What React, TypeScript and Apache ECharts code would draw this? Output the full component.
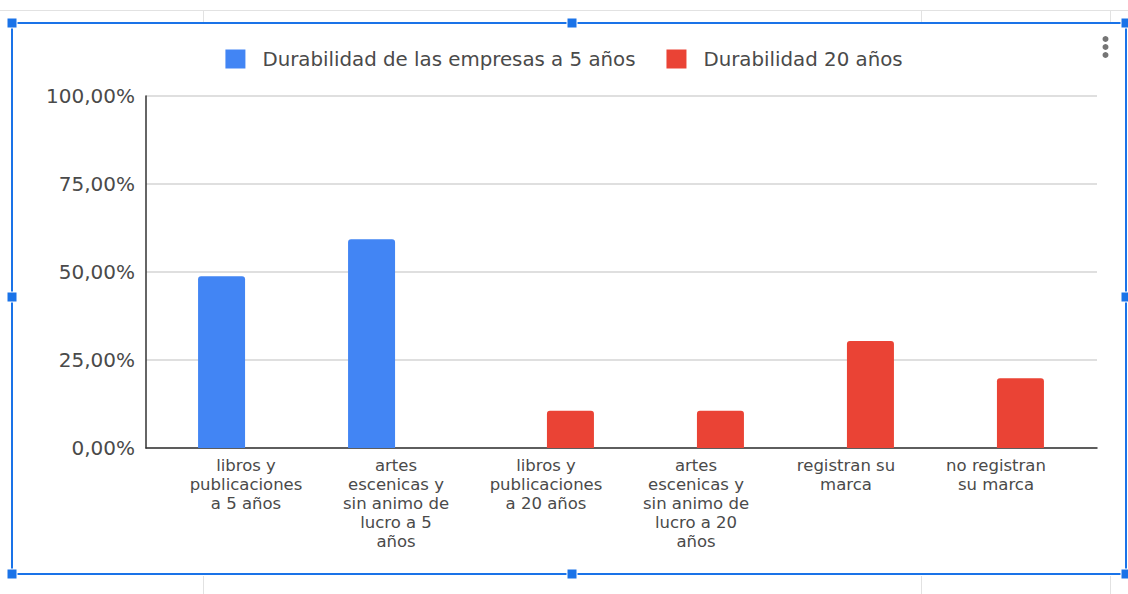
import React, { useEffect, useRef } from "react";
import * as echarts from "echarts";

const categories = [
  "libros y\npublicaciones\na 5 años",
  "artes\nescenicas y\nsin animo de\nlucro a 5\naños",
  "libros y\npublicaciones\na 20 años",
  "artes\nescenicas y\nsin animo de\nlucro a 20\naños",
  "registran su\nmarca",
  "no registran\nsu marca",
];
const seriesNames = ["Durabilidad de las empresas a 5 años", "Durabilidad 20 años"];
const durab5 = [0.488, 0.593, null, null, null, null];
const durab20 = [null, null, 0.106, 0.106, 0.304, 0.198];
const yTicks = [0, 0.25, 0.5, 0.75, 1];

const FONT = "DejaVu Sans";
const BLUE = "#4285F4";
const RED = "#EA4335";
const SEL = "#1a73e8";

export default function App() {
  const ref = useRef<HTMLDivElement>(null);
  useEffect(() => {
    document.body.style.margin = "0";
    const chart = echarts.init(ref.current!, null, { renderer: "svg" });
    const handles = [
      [12, 23], [572, 23], [1126, 23],
      [12, 297], [1126, 297],
      [12, 574], [572, 574], [1126, 574],
    ];
    const graphic: any[] = [
      { type: "line", shape: { x1: 0, y1: 10.5, x2: 1128, y2: 10.5 }, style: { stroke: "#e2e2e2", lineWidth: 1 } },
      ...[203, 921, 1110].flatMap((x) => [
        { type: "line", shape: { x1: x + 0.5, y1: 10, x2: x + 0.5, y2: 22 }, style: { stroke: "#e2e2e2", lineWidth: 1 } },
        { type: "line", shape: { x1: x + 0.5, y1: 576, x2: x + 0.5, y2: 594 }, style: { stroke: "#e2e2e2", lineWidth: 1 } },
      ]),
      {
        type: "rect",
        shape: { x: 12, y: 23, width: 1114, height: 551 },
        style: { fill: "none", stroke: SEL, lineWidth: 2 },
      },
      ...handles.map(([x, y]) => ({
        type: "rect",
        shape: { x: x - 5, y: y - 5, width: 10, height: 10 },
        style: { fill: SEL, stroke: "#ffffff", lineWidth: 1 },
      })),
      ...[39, 47, 55].map((y) => ({
        type: "circle",
        shape: { cx: 1105.5, cy: y, r: 3 },
        style: { fill: "#757575" },
      })),
    ];
    chart.setOption({
      animation: false,
      backgroundColor: "#ffffff",
      textStyle: { fontFamily: FONT },
      legend: {
        top: 49,
        left: "center",
        padding: 0,
        itemWidth: 20,
        itemHeight: 19,
        itemGap: 31,
        icon: "rect",
        textStyle: { fontFamily: FONT, fontSize: 19.8, lineHeight: 19, color: "#4a4a4a", padding: [0, 0, 0, 12] },
        data: seriesNames,
      },
      grid: [
        { left: 146, right: 31, top: 96, bottom: 146 },
        { left: 171, right: 57, top: 96, bottom: 146 },
      ],
      xAxis: [
        {
          type: "value",
          gridIndex: 0,
          min: 0,
          max: 1,
          axisLine: { show: true, lineStyle: { color: "#333333", width: 1.5 } },
          axisTick: { show: false },
          axisLabel: { show: false },
          splitLine: { show: false },
        },
        {
          type: "category",
          gridIndex: 1,
          data: categories,
          axisLine: { show: false },
          axisTick: { show: false },
          axisLabel: {
            interval: 0,
            fontFamily: FONT,
            fontSize: 16.5,
            lineHeight: 19,
            color: "#4a4a4a",
            margin: 8,
          },
        },
      ],
      yAxis: [
        {
          type: "value",
          gridIndex: 0,
          min: 0,
          max: 1,
          interval: 0.25,
          axisLine: { show: true, lineStyle: { color: "#333333", width: 1.5 } },
          axisTick: { show: false },
          splitLine: { show: true, lineStyle: { color: "#d4d4d4", width: 1.5 } },
          axisLabel: {
            fontFamily: FONT,
            fontSize: 20,
            color: "#4a4a4a",
            margin: 11,
            customValues: yTicks,
            formatter: (v: number) => (v * 100).toFixed(2).replace(".", ",") + "%",
          },
        },
        {
          type: "value",
          gridIndex: 1,
          min: 0,
          max: 1,
          show: false,
        },
      ],
      series: [
        {
          name: seriesNames[0],
          type: "bar",
          xAxisIndex: 1,
          yAxisIndex: 1,
          data: durab5,
          barWidth: 47,
          barGap: "4%",
          itemStyle: { color: BLUE, borderRadius: [3, 3, 0, 0] },
        },
        {
          name: seriesNames[1],
          type: "bar",
          xAxisIndex: 1,
          yAxisIndex: 1,
          data: durab20,
          barWidth: 47,
          barGap: "4%",
          itemStyle: { color: RED, borderRadius: [3, 3, 0, 0] },
        },
      ],
      graphic,
    });
    return () => chart.dispose();
  }, []);
  return <div ref={ref} style={{ width: 1128, height: 594 }} />;
}
